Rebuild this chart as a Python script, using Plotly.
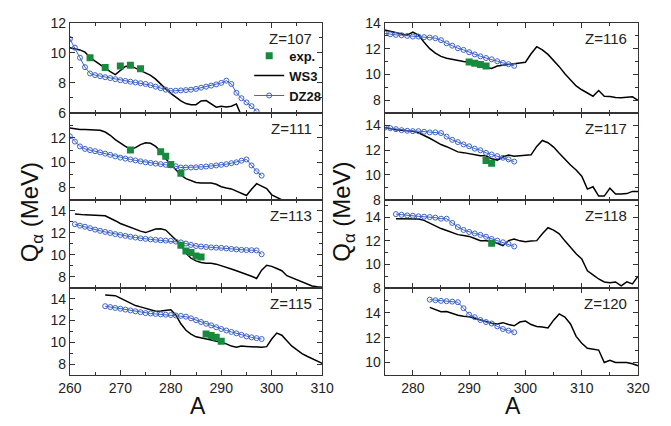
import plotly.graph_objects as go

# ---------------- data ----------------
# Left column panels (A from 260 to 310)
ws3_107_start = 260
ws3_107 = [10.35, 10.3, 10.2, 10.05, 9.7, 9.45, 9.2, 9.0, 8.75, 8.55, 8.8, 9.1, 9.15, 9.0, 8.85,
           8.65, 8.5, 8.25, 7.9, 7.6, 7.3, 7.05, 6.8, 6.62, 6.55, 6.55, 6.8, 6.82, 6.6, 6.38,
           6.45, 6.4, 6.45, 6.6, 5.8, 5.5]
dz28_107_start = 260
dz28_107 = [10.93, 10.35, 9.68, 9.05, 8.63, 8.52, 8.45, 8.38, 8.32, 8.25, 8.18, 8.13, 8.08, 8.03,
            7.98, 7.93, 7.85, 7.75, 7.65, 7.55, 7.47, 7.48, 7.5, 7.52, 7.55, 7.6, 7.68, 7.75,
            7.82, 7.9, 8.0, 8.15, 7.93, 7.34, 6.98, 6.7, 6.45, 6.1]
exp_107_A = [264, 267, 270, 272, 274]
exp_107 = [9.68, 9.03, 9.13, 9.18, 8.94]

ws3_111_start = 260
ws3_111 = [12.79, 12.72, 12.66, 12.66, 12.66, 12.66, 12.6, 12.46, 12.2, 11.85, 11.55, 11.3, 11.08,
           11.2, 11.45, 11.6, 11.55, 11.3, 10.9, 10.3, 9.85, 9.45, 9.0, 8.7, 8.55, 8.4, 8.35,
           8.35, 8.35, 8.25, 8.05, 7.95, 7.88, 7.7, 7.5, 7.35, 7.85, 8.3, 8.1, 7.9, 7.4, 7.2,
           7.05, 6.8]
dz28_111_start = 260
dz28_111 = [12.12, 11.69, 11.3, 11.1, 11.0, 10.92, 10.82, 10.72, 10.62, 10.5, 10.4, 10.32, 10.25,
            10.17, 10.1, 10.02, 9.97, 9.92, 9.87, 9.82, 9.77, 9.7, 9.6, 9.6, 9.6, 9.62, 9.65,
            9.68, 9.72, 9.77, 9.82, 9.87, 9.95, 10.02, 10.15, 10.25, 9.77, 9.3, 8.95]
exp_111_A = [272, 278, 279, 280, 282]
exp_111 = [11.02, 10.87, 10.51, 9.85, 9.15]

ws3_113_start = 261
ws3_113 = [13.7, 13.65, 13.63, 13.62, 13.62, 13.58, 13.55, 13.35, 13.1, 12.85, 12.66, 12.5, 12.3,
           12.15, 12.02, 12.2, 12.35, 12.37, 12.25, 11.8, 11.4, 10.92, 10.15, 9.7, 9.45, 9.3,
           9.24, 9.24, 9.15, 8.98, 8.85, 8.7, 8.55, 8.4, 8.2, 8.05, 7.85, 8.6, 9.05, 8.95, 8.75,
           8.55, 8.1, 7.9, 7.75, 7.5, 7.3, 7.17, 7.1, 7.05]
dz28_113_start = 261
dz28_113 = [12.78, 12.65, 12.55, 12.42, 12.29, 12.18, 12.08, 11.98, 11.88, 11.8, 11.72, 11.64,
            11.57, 11.5, 11.45, 11.4, 11.36, 11.32, 11.29, 11.27, 11.2, 11.13, 11.02, 10.9,
            10.8, 10.75, 10.71, 10.67, 10.65, 10.63, 10.58, 10.53, 10.49, 10.45, 10.43, 10.42,
            10.4, 10.05]
exp_113_A = [282, 283, 284, 285, 286]
exp_113 = [10.87, 10.35, 10.2, 9.9, 9.79]

ws3_115_start = 267
ws3_115 = [14.33, 14.3, 14.28, 14.05, 13.82, 13.6, 13.37, 13.25, 13.13, 13.0, 12.84, 12.88, 12.95,
           12.98, 12.5, 11.7, 11.1, 10.75, 10.5, 10.38, 10.28, 10.2, 10.1, 10.03, 9.85, 9.65,
           9.55, 9.65, 9.62, 9.58, 9.55, 9.55, 9.6, 10.3, 10.84, 10.65, 10.15, 9.64, 9.3, 8.96,
           8.72, 8.5, 8.28, 8.06]
dz28_115_start = 267
dz28_115 = [13.31, 13.23, 13.15, 13.08, 13.0, 12.92, 12.84, 12.76, 12.68, 12.64, 12.6, 12.56,
            12.53, 12.5, 12.46, 12.42, 12.35, 12.2, 12.03, 11.86, 11.7, 11.55, 11.38, 11.22,
            11.08, 10.95, 10.82, 10.68, 10.54, 10.45, 10.38, 10.3]
exp_115_A = [287, 288, 289, 290]
exp_115 = [10.75, 10.63, 10.45, 10.09]

# Right column panels (A from 275 to 320)
ws3_116_start = 275
ws3_116 = [13.45, 13.35, 13.24, 13.12, 13.05, 13.28, 13.05, 12.5, 12.0, 11.65, 11.4, 11.25, 11.15,
           11.1, 11.0, 10.94, 10.85, 10.72, 10.55, 10.46, 10.65, 10.72, 10.78, 10.82, 10.88,
           10.94, 11.6, 12.15, 11.9, 11.55, 11.1, 10.6, 10.05, 9.55, 9.1, 8.8, 8.55, 8.3, 8.74,
           8.3, 8.28, 8.2, 8.18, 8.2, 8.25, 7.98]
dz28_116_start = 275
dz28_116 = [13.19, 13.12, 13.07, 13.04, 12.99, 12.94, 12.94, 12.89, 12.86, 12.81, 12.66, 12.41,
            12.23, 12.03, 11.9, 11.72, 11.55, 11.4, 11.27, 11.17, 11.02, 10.89, 10.79, 10.66]
exp_116_A = [290, 291, 292, 293]
exp_116 = [10.96, 10.86, 10.76, 10.64]

ws3_117_start = 275
ws3_117 = [13.82, 13.72, 13.64, 13.6, 13.55, 13.53, 13.4, 13.2, 12.96, 12.7, 12.45, 12.28, 12.08,
           11.86, 11.8, 11.7, 11.6, 11.55, 11.55, 11.3, 11.2, 11.45, 11.6, 11.5, 11.55, 11.6,
           11.62, 12.3, 12.78, 12.6, 12.25, 11.75, 11.25, 10.8, 10.4, 9.9, 8.86, 9.05, 8.3, 8.3,
           8.94, 8.47, 8.47, 8.5, 8.68, 8.68]
dz28_117_start = 275
dz28_117 = [13.82, 13.77, 13.69, 13.61, 13.56, 13.53, 13.53, 13.48, 13.43, 13.43, 13.38, 13.09,
            12.83, 12.65, 12.46, 12.31, 12.12, 11.99, 11.78, 11.65, 11.52, 11.39, 11.26, 11.08]
exp_117_A = [293, 294]
exp_117 = [11.16, 10.95]

ws3_118_start = 277
ws3_118 = [13.89, 13.89, 13.89, 13.89, 13.87, 13.75, 13.5, 13.25, 13.05, 12.88, 12.7, 12.53, 12.45,
           12.38, 12.2, 12.02, 12.02, 11.95, 11.8, 11.6, 12.02, 12.16, 12.0, 11.93, 11.98, 12.02,
           12.6, 13.12, 12.92, 12.6, 12.0, 11.4, 10.9, 10.45, 9.45, 9.1, 8.75, 8.5, 8.44, 8.5,
           8.16, 8.5, 8.33, 8.99]
dz28_118_start = 277
dz28_118 = [14.28, 14.22, 14.17, 14.14, 14.09, 14.06, 14.03, 13.98, 13.89, 13.89, 13.53, 13.18,
            12.93, 12.76, 12.63, 12.51, 12.35, 12.16, 12.02, 11.88, 11.74, 11.52]
exp_118_A = [294]
exp_118 = [11.8]

ws3_120_start = 283
ws3_120 = [14.43, 14.25, 14.08, 14.1, 13.92, 13.8, 13.72, 13.67, 13.55, 13.4, 13.28, 13.15, 13.1,
           13.2, 13.05, 12.95, 13.25, 13.33, 13.05, 12.9, 12.85, 12.78, 13.4, 13.9, 13.65, 13.1,
           12.1, 11.54, 11.15, 11.08, 11.0, 10.0, 10.18, 10.0, 10.0, 10.0, 9.9, 9.74]
dz28_120_start = 283
dz28_120 = [15.05, 15.0, 14.95, 14.92, 14.89, 14.84, 14.36, 13.84, 13.64, 13.41, 13.25, 13.13,
            12.9, 12.69, 12.56, 12.43]
exp_120_A = []
exp_120 = []

z_labels = ["Z=107", "Z=111", "Z=113", "Z=115", "Z=116", "Z=117", "Z=118", "Z=120"]
x_ticks_left = [260, 270, 280, 290, 300, 310]
x_ticks_right = [280, 290, 300, 310, 320]

# ---------------- layout helpers ----------------
W, H = 671, 426
panels = [
    (ws3_107_start, ws3_107, dz28_107_start, dz28_107, exp_107_A, exp_107),
    (ws3_111_start, ws3_111, dz28_111_start, dz28_111, exp_111_A, exp_111),
    (ws3_113_start, ws3_113, dz28_113_start, dz28_113, exp_113_A, exp_113),
    (ws3_115_start, ws3_115, dz28_115_start, dz28_115, exp_115_A, exp_115),
    (ws3_116_start, ws3_116, dz28_116_start, dz28_116, exp_116_A, exp_116),
    (ws3_117_start, ws3_117, dz28_117_start, dz28_117, exp_117_A, exp_117),
    (ws3_118_start, ws3_118, dz28_118_start, dz28_118, exp_118_A, exp_118),
    (ws3_120_start, ws3_120, dz28_120_start, dz28_120, exp_120_A, exp_120),
]
y_ranges = [[6, 12], [7, 14], [7, 15], [7, 15], [7, 14], [8, 15], [8, 15.5], [9, 16]]
y_tickvals = [[6, 8, 10, 12], [8, 10, 12], [8, 10, 12, 14], [8, 10, 12, 14],
              [8, 10, 12, 14], [8, 10, 12, 14], [8, 10, 12, 14], [10, 12, 14]]

row_px = [15.5, 109, 199.3, 290.7, 381.3]
col_px = [(60, 321.7), (386.5, 649.3)]

GREEN = "#178a3e"
BLUE = "#3b62c6"
AXC = "#333333"
FONT = "Arial, Liberation Sans, sans-serif"

fig = go.Figure()
layout = {}
annotations = []

for i, (ws_s, ws_v, dz_s, dz_v, ex_a, ex_v) in enumerate(panels):
    col = 0 if i < 4 else 1
    row = i % 4
    n = i + 1
    xa = "x" if n == 1 else f"x{n}"
    ya = "y" if n == 1 else f"y{n}"
    first = (i == 0)
    fig.add_trace(go.Scatter(
        x=list(range(ws_s, ws_s + len(ws_v))), y=ws_v, mode="lines",
        line=dict(color="black", width=1.5), name="WS3", showlegend=first,
        legendrank=2, xaxis=xa, yaxis=ya))
    fig.add_trace(go.Scatter(
        x=list(range(dz_s, dz_s + len(dz_v))), y=dz_v, mode="lines+markers",
        line=dict(color=BLUE, width=1),
        marker=dict(symbol="circle-open", size=5, color=BLUE, line=dict(width=1)),
        name="DZ28", showlegend=first, legendrank=3, xaxis=xa, yaxis=ya))
    if ex_a or first:
        fig.add_trace(go.Scatter(
            x=ex_a, y=ex_v, mode="markers",
            marker=dict(symbol="square", size=7, color=GREEN),
            name="exp.", showlegend=first, legendrank=1, xaxis=xa, yaxis=ya))

    x0, x1 = col_px[col]
    top, bot = row_px[row], row_px[row + 1]
    xdom = [x0 / W, x1 / W]
    ydom = [1 - bot / H, 1 - top / H]
    if col == 0:
        xr, xt = [260, 310], x_ticks_left
        mt0 = 260
    else:
        xr, xt = [275, 320], x_ticks_right
        mt0 = 275
    xkey = "xaxis" if n == 1 else f"xaxis{n}"
    ykey = "yaxis" if n == 1 else f"yaxis{n}"
    layout[xkey] = dict(
        domain=xdom, anchor=ya, range=xr, tickmode="array", tickvals=xt,
        showticklabels=(row == 3), ticks="inside", ticklen=5, tickwidth=1, tickcolor=AXC,
        minor=dict(ticks="inside", ticklen=3, tickwidth=1, tickcolor=AXC, tick0=mt0, dtick=5),
        showline=True, linecolor=AXC, linewidth=1, mirror="allticks",
        showgrid=False, zeroline=False,
        tickfont=dict(family=FONT, size=14, color="#222"))
    layout[ykey] = dict(
        domain=ydom, anchor=xa, range=y_ranges[i], tickmode="array", tickvals=y_tickvals[i],
        ticks="inside", ticklen=5, tickwidth=1, tickcolor=AXC,
        minor=dict(ticks="inside", ticklen=3, tickwidth=1, tickcolor=AXC, tick0=0, dtick=1),
        showline=True, linecolor=AXC, linewidth=1, mirror="allticks",
        showgrid=False, zeroline=False,
        tickfont=dict(family=FONT, size=14, color="#222"))
    annotations.append(dict(
        text=z_labels[i], xref="paper", yref="paper",
        x=(x1 - 9) / W, y=1 - (top + 16) / H, xanchor="right", yanchor="middle",
        showarrow=False, font=dict(family=FONT, size=15, color="#222")))

# axis titles
for cx in (20, 343):
    annotations.append(dict(
        text="Q<sub>α</sub> (MeV)", xref="paper", yref="paper",
        x=cx / W, y=1 - 212 / H, textangle=-90, xanchor="center", yanchor="middle",
        showarrow=False, font=dict(family=FONT, size=24, color="#111")))
for cx in (193, 520):
    annotations.append(dict(
        text="A", xref="paper", yref="paper", x=cx / W, y=0.0,
        xanchor="center", yanchor="bottom", yshift=-3, showarrow=False,
        font=dict(family=FONT, size=23, color="#111")))

fig.update_layout(
    width=W, height=H, margin=dict(l=0, r=0, t=0, b=0),
    paper_bgcolor="white", plot_bgcolor="white",
    annotations=annotations,
    legend=dict(x=246 / W, y=1 - 34 / H, xanchor="left", yanchor="top",
                bgcolor="rgba(0,0,0,0)", borderwidth=0,
                font=dict(family=FONT, size=13, color="#111", weight="bold"),
                tracegroupgap=0, itemwidth=30),
    **layout)

fig.write_html("out.html", config={"displayModeBar": False},
               post_script="document.body.style.margin='0px';")
